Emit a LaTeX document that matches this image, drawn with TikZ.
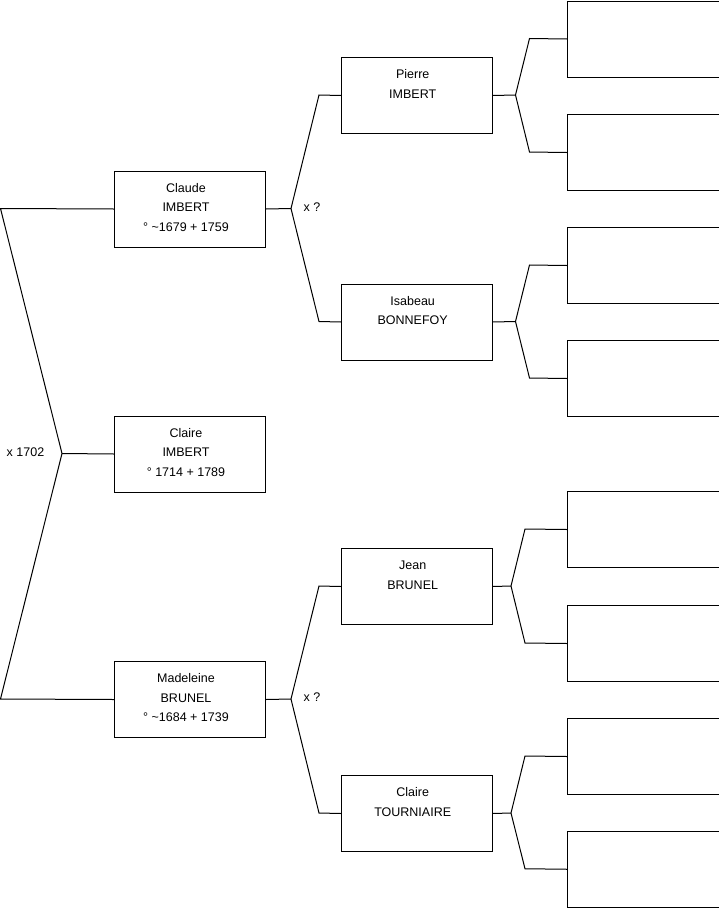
\documentclass[tikz,border=0pt]{standalone}
\usepackage{fontspec}
\setmainfont{Liberation Sans}
\usetikzlibrary{calc}
\begin{document}
\begin{tikzpicture}[x=1pt,y=-1pt,
  box/.style={draw=black, line width=1pt, rectangle, inner sep=0pt, minimum width=151pt, minimum height=76pt, anchor=north west},
  txt/.style={font=\fontsize{12.5}{15}\selectfont, inner sep=0pt, anchor=base},
  con/.style={draw=black, line width=1pt}]
\useasboundingbox (0,0) rectangle (719,908);
% level 1
\node[box] (claude) at (114,170.5) {};
\node[box] (claire) at (114,415.5) {};
\node[box] (madel) at (114,661) {};
% level 2
\node[box, minimum width=150.5pt] (pierre) at (341,57) {};
\node[box, minimum width=150.5pt] (isab) at (341,283.5) {};
\node[box, minimum width=150.5pt] (jean) at (341,548) {};
\node[box, minimum width=150.5pt] (clairet) at (341,775) {};
% level 3
\node[box, minimum width=151.5pt] (g1) at (567,0.5) {};
\node[box, minimum width=151.5pt] (g2) at (567,114) {};
\node[box, minimum width=151.5pt] (g3) at (567,227) {};
\node[box, minimum width=151.5pt] (g4) at (567,340) {};
\node[box, minimum width=151.5pt] (g5) at (567,491) {};
\node[box, minimum width=151.5pt] (g6) at (567,605) {};
\node[box, minimum width=151.5pt] (g7) at (567,718) {};
\node[box, minimum width=151.5pt, minimum height=75.5pt] (g8) at (567,831) {};
% texts
\node[txt] (claude1) at (186,192) {Claude};
\node[txt] (claude2) at (186,211.6) {IMBERT};
\node[txt] (claude3) at (186,231.2) {° \textasciitilde1679 + 1759};
\node[txt] (claire1) at (186,437) {Claire};
\node[txt] (claire2) at (186,456.6) {IMBERT};
\node[txt] (claire3) at (186,476.2) {° 1714 + 1789};
\node[txt] (madel1) at (186,682.5) {Madeleine};
\node[txt] (madel2) at (186,702.1) {BRUNEL};
\node[txt] (madel3) at (186,721.7) {° \textasciitilde1684 + 1739};
\node[txt] (pierre1) at (412.7,78.5) {Pierre};
\node[txt] (pierre2) at (412.7,98.1) {IMBERT};
\node[txt] (isab1) at (412.7,305) {Isabeau};
\node[txt] (isab2) at (412.7,324.6) {BONNEFOY};
\node[txt] (jean1) at (412.7,569.5) {Jean};
\node[txt] (jean2) at (412.7,589.1) {BRUNEL};
\node[txt] (clairet1) at (412.7,796.5) {Claire};
\node[txt] (clairet2) at (412.7,816.1) {TOURNIAIRE};
\node[txt, anchor=base west] (xq1) at (303.5,211) {x ?};
\node[txt, anchor=base west] (xq2) at (303.5,701.5) {x ?};
\node[txt, anchor=base west] (x1702) at (6.5,456) {x 1702};
% bend coordinates
\coordinate (a1) at (0.5,208.5);
\coordinate (a2) at (0.5,699);
\coordinate (vL) at (62,453.5);
\coordinate (vc) at (291,208.5);
\coordinate (bc1) at (319,95);
\coordinate (bc2) at (319,321.5);
\coordinate (vm) at (291,699);
\coordinate (bm1) at (319,586);
\coordinate (bm2) at (319,813);
\coordinate (vp) at (515.5,95);
\coordinate (bp1) at (529.5,38.5);
\coordinate (bp2) at (529.5,152);
\coordinate (vi) at (515.5,321.5);
\coordinate (bi1) at (529.5,265);
\coordinate (bi2) at (529.5,378);
\coordinate (vj) at (511,586);
\coordinate (bj1) at (525,529);
\coordinate (bj2) at (525,643);
\coordinate (vt) at (511,813);
\coordinate (bt1) at (525,756);
\coordinate (bt2) at (525,868.75);
% connectors
\draw[con] (claude.west) -- (a1) -- (vL) -- (a2) -- (madel.west);
\draw[con] (vL) -- (claire.west);
\draw[con] (claude.east) -- (vc);
\draw[con] (pierre.west) -- (bc1) -- (vc) -- (bc2) -- (isab.west);
\draw[con] (madel.east) -- (vm);
\draw[con] (jean.west) -- (bm1) -- (vm) -- (bm2) -- (clairet.west);
\draw[con] (pierre.east) -- (vp);
\draw[con] (g1.west) -- (bp1) -- (vp) -- (bp2) -- (g2.west);
\draw[con] (isab.east) -- (vi);
\draw[con] (g3.west) -- (bi1) -- (vi) -- (bi2) -- (g4.west);
\draw[con] (jean.east) -- (vj);
\draw[con] (g5.west) -- (bj1) -- (vj) -- (bj2) -- (g6.west);
\draw[con] (clairet.east) -- (vt);
\draw[con] (g7.west) -- (bt1) -- (vt) -- (bt2) -- (g8.west);
\end{tikzpicture}
\end{document}
